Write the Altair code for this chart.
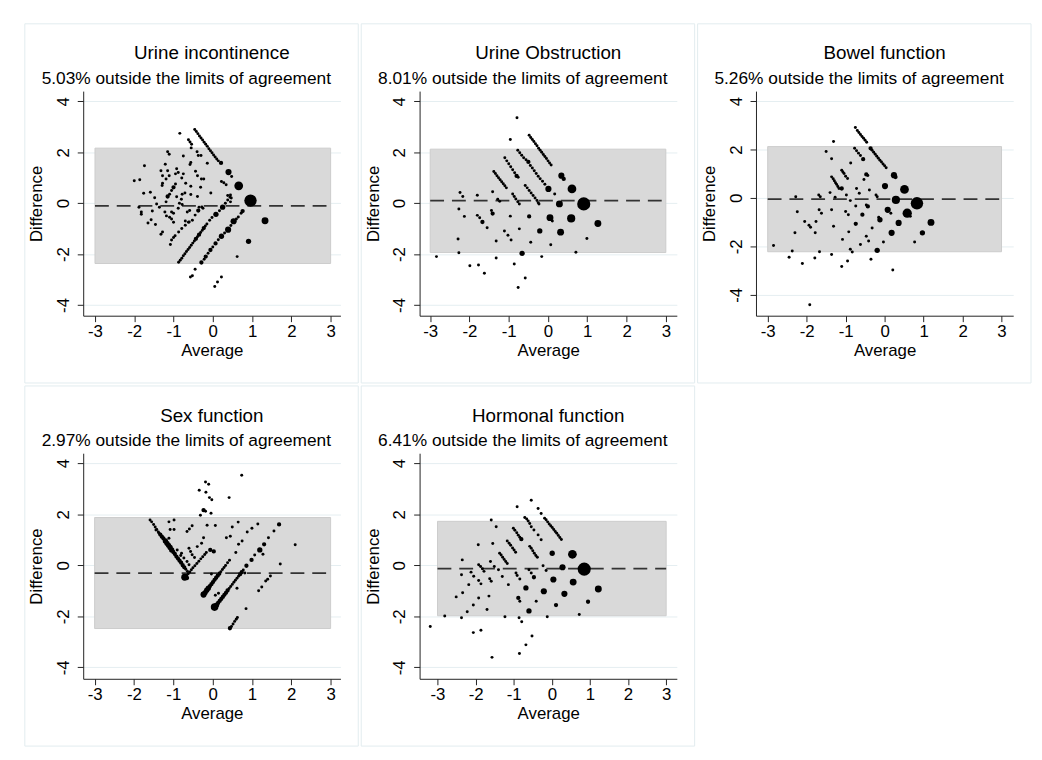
import altair as alt
import pandas as pd

FONT = "Liberation Sans"

names = ["Urine incontinence", "Urine Obstruction", "Bowel function", "Sex function", "Hormonal function"]
pct_outside = ["5.03%", "8.01%", "5.26%", "2.97%", "6.41%"]
mean_diff = [-0.11, 0.10, -0.05, -0.31, -0.13]
loa_low = [-2.37, -1.94, -2.22, -2.48, -1.98]
loa_high = [2.16, 2.12, 2.12, 1.87, 1.72]
x_ticks = [-3, -2, -1, 0, 1, 2, 3]
y_ticks = [-4, -2, 0, 2, 4]
x_domains = [[-3.30, 3.25], [-3.27, 3.28], [-3.30, 3.30], [-3.29, 3.25], [-3.47, 3.28]]
y_domains = [[-4.42, 4.40], [-4.42, 4.40], [-4.86, 4.41], [-4.45, 4.39], [-4.45, 4.39]]

# (average, difference, count)
p1 = [
    (-0.46, 2.89, 1), (-0.42, 2.81, 1), (-0.38, 2.73, 1), (-0.34, 2.64, 1), (-0.30, 2.56, 1), (-0.26, 2.48, 1),
    (-0.22, 2.39, 1), (-0.18, 2.31, 1), (-0.14, 2.23, 1), (-0.10, 2.14, 1), (-0.06, 2.06, 1), (-0.02, 1.98, 1),
    (0.02, 1.89, 1), (0.06, 1.81, 1), (0.10, 1.73, 1), (0.14, 1.66, 1), (0.21, 1.58, 2),
    (0.40, 1.22, 4), (0.48, 1.05, 1), (0.62, 0.74, 1), (0.66, 0.68, 8), (0.96, 0.10, 16), (1.33, -0.69, 5),
    (0.91, -1.50, 3), (0.62, -2.10, 1),
    (-0.62, 2.49, 1), (-0.58, 2.40, 1), (-0.54, 2.31, 1), (-0.55, 2.17, 1), (-0.40, 2.02, 1), (-0.37, 1.87, 1),
    (-0.30, 1.87, 1), (-0.14, 1.57, 1), (0.22, 0.85, 1), (0.28, 0.80, 1), (0.34, 0.72, 1), (0.38, 0.30, 1),
    (0.45, 0.32, 1), (0.47, 0.20, 1), (0.45, 0.05, 1), (-0.56, 1.60, 1), (-0.58, 1.52, 1),
    (-2.00, 0.88, 1), (-1.86, 0.92, 1), (-1.74, 1.47, 1), (-1.76, 0.39, 1), (-1.88, -0.16, 1), (-1.82, -0.35, 1),
    (-1.82, -0.44, 1), (-1.65, -0.78, 1), (-1.57, -0.65, 1), (-1.59, 0.43, 1), (-1.48, 0.21, 1), (-1.54, -0.31, 1),
    (-1.46, -0.84, 1), (-1.43, -0.03, 1), (-1.36, -0.16, 1), (-1.32, 1.27, 1), (-1.28, 1.08, 1), (-1.28, 0.78, 1),
    (-1.29, 0.69, 1), (-1.28, -1.13, 1), (-1.32, -1.22, 1), (-1.21, 1.53, 1), (-1.15, 2.02, 1), (-1.11, 1.92, 1),
    (-1.15, 1.27, 1), (-1.11, 1.08, 1), (-1.19, 0.95, 1), (-1.19, 0.05, 1), (-1.15, 0.26, 2), (-1.10, 0.35, 1),
    (-1.05, 0.50, 1), (-1.00, 0.62, 2), (-0.95, 0.75, 1), (-1.22, -0.35, 1), (-1.18, -0.50, 1), (-1.10, -0.55, 1),
    (-1.05, -0.35, 1), (-1.05, -0.62, 1), (-1.00, -0.40, 1), (-1.00, -0.75, 1), (-1.05, -1.45, 1), (-1.00, -1.35, 1),
    (-1.08, -1.62, 1), (-0.96, -1.28, 1), (-0.87, -1.13, 1), (-0.79, -1.00, 1), (-0.70, -0.87, 1),
    (-0.88, -0.20, 1), (-0.85, 0.00, 1), (-0.80, 0.15, 1), (-0.78, 0.35, 1), (-0.92, 0.25, 1), (-0.95, 1.15, 1),
    (-0.92, 1.35, 1), (-0.88, 1.20, 1), (-0.75, 1.15, 1), (-0.78, -0.05, 1), (-0.65, -0.35, 1), (-0.70, -0.70, 1),
    (-0.62, -0.75, 1), (-0.84, 2.74, 1), (-0.75, 1.85, 1), (-0.79, 0.99, 1), (-0.69, 0.78, 1), (-0.71, 0.40, 1),
    (-0.56, 0.66, 1), (-0.56, 0.34, 1), (-0.44, 1.25, 1), (-0.39, 1.08, 1), (-0.29, 0.95, 1), (-0.23, 0.95, 1),
    (-0.31, 0.62, 1), (-0.39, 0.26, 1), (-0.35, -0.16, 1), (-0.37, -0.29, 2), (-0.45, -0.47, 1), (-0.52, -0.67, 1),
    (-0.60, -0.74, 1), (-0.59, -0.29, 1), (-0.25, -0.20, 1), (-0.28, -0.15, 1), (-0.05, 0.40, 1),
    (-0.87, -2.32, 1), (-0.83, -2.24, 1), (-0.79, -2.16, 1), (-0.75, -2.07, 1), (-0.71, -1.99, 1), (-0.67, -1.90, 1),
    (-0.63, -1.82, 1), (-0.59, -1.74, 1), (-0.55, -1.65, 1), (-0.51, -1.57, 1), (-0.47, -1.49, 1), (-0.43, -1.40, 2),
    (-0.39, -1.32, 1), (-0.35, -1.24, 2), (-0.31, -1.15, 1), (-0.27, -1.07, 1), (-0.23, -0.98, 2), (-0.19, -0.90, 1),
    (-0.15, -0.82, 1), (-0.08, -0.67, 1), (-0.02, -0.56, 1), (0.08, -0.44, 3), (0.17, -0.30, 1), (0.25, -0.16, 3),
    (0.32, 0.00, 1), (0.38, 0.12, 1), (0.44, 0.23, 1),
    (-0.29, -2.33, 2), (-0.22, -2.20, 1), (-0.18, -2.10, 2), (-0.12, -1.97, 1), (-0.06, -1.84, 2), (0.00, -1.72, 1),
    (0.07, -1.58, 2), (0.14, -1.44, 1), (0.22, -1.30, 3), (0.30, -1.17, 1), (0.39, -1.04, 4), (0.46, -0.88, 1),
    (0.53, -0.71, 4), (0.60, -0.62, 1), (0.65, -0.54, 1), (0.72, -0.40, 1), (0.76, -0.31, 2),
    (-0.57, -2.90, 1), (-0.52, -2.85, 1), (-0.45, -2.60, 1), (0.05, -3.27, 1), (0.12, -3.10, 1), (0.22, -2.90, 1),
]

p2 = [
    (-0.79, 3.35, 1), (-0.96, 2.50, 1),
    (-0.48, 2.67, 1), (-0.44, 2.58, 1), (-0.40, 2.50, 1), (-0.36, 2.42, 1), (-0.32, 2.33, 1), (-0.28, 2.25, 1),
    (-0.24, 2.16, 1), (-0.20, 2.08, 1), (-0.16, 2.00, 1), (-0.12, 1.91, 1), (-0.08, 1.83, 1), (-0.04, 1.75, 1),
    (0.00, 1.66, 1), (0.04, 1.58, 1), (0.08, 1.50, 1),
    (0.34, 1.08, 4), (0.40, 0.95, 2), (0.61, 0.56, 8), (0.91, -0.03, 18), (1.27, -0.80, 5), (0.99, -1.39, 1),
    (0.71, -1.93, 1), (0.59, -0.60, 7), (0.32, -1.14, 5), (0.05, -0.57, 5), (0.11, -0.70, 1), (-0.21, -1.09, 3),
    (-0.48, -0.52, 2), (-0.44, -1.54, 1), (0.07, -1.63, 1), (-0.16, -2.10, 1), (-0.66, -1.97, 3), (-0.73, -1.01, 1),
    (-0.96, -0.51, 1), (-1.11, -1.09, 1), (-1.02, -1.26, 1), (-0.94, -1.45, 1), (-0.86, -2.39, 1), (-0.76, -3.31, 1),
    (-0.58, -2.94, 1), (-1.32, -2.15, 1), (-1.32, -1.49, 1), (-1.62, -2.75, 1), (-1.77, -2.43, 1), (-1.99, -2.46, 1),
    (-2.27, -1.95, 1), (-2.29, -1.41, 1), (-2.84, -2.10, 1), (-2.24, 0.42, 1), (-2.17, 0.26, 1), (-2.27, -0.23, 1),
    (-2.13, -0.52, 1), (-1.80, 0.31, 1), (-1.80, -0.48, 1), (-1.74, -0.57, 1), (-1.67, -0.74, 2), (-1.55, -0.97, 1),
    (-1.44, -0.29, 1), (-1.41, -0.41, 2), (-1.41, 0.45, 1),
    (-1.38, 1.24, 1), (-1.34, 1.16, 1), (-1.30, 1.08, 1), (-1.26, 1.00, 1), (-1.22, 0.92, 1), (-1.18, 0.84, 1),
    (-1.14, 0.76, 1), (-1.10, 0.68, 1), (-1.06, 0.60, 1), (-1.28, 0.15, 1), (-1.23, 0.07, 1),
    (-1.10, 1.78, 1), (-1.05, 1.66, 1), (-1.00, 1.55, 1), (-0.95, 1.43, 1), (-0.90, 1.31, 1), (-0.85, 1.19, 1),
    (-0.80, 1.07, 2), (-0.76, 1.02, 1),
    (-0.90, 0.36, 1), (-0.86, 0.26, 1), (-0.82, 0.16, 1), (-0.77, 0.05, 1), (-0.73, -0.03, 1),
    (-0.77, 2.08, 1), (-0.72, 1.98, 1), (-0.67, 1.88, 1), (-0.62, 1.78, 1), (-0.56, 1.70, 1), (-0.50, 1.62, 2),
    (-0.45, 1.48, 1), (-0.40, 1.38, 1), (-0.35, 1.27, 1), (-0.30, 1.16, 1), (-0.25, 1.06, 1), (-0.20, 0.96, 1),
    (-0.14, 0.86, 1), (-0.08, 0.74, 1), (0.01, 0.56, 4), (0.17, 0.36, 1),
    (-0.58, 0.69, 1), (-0.53, 0.60, 1), (-0.48, 0.50, 1), (-0.43, 0.40, 1), (-0.38, 0.30, 1), (-0.33, 0.20, 1),
    (-0.28, 0.10, 1), (-0.25, 0.02, 1), (-0.23, -0.03, 1),
    (0.29, -0.03, 5), (0.32, -0.08, 1),
]

p3 = [
    (-1.92, -4.41, 1), (-2.85, -1.96, 1), (-2.45, -2.45, 1), (-2.37, -2.19, 1), (-2.30, -1.44, 1), (-2.24, -0.57, 1),
    (-2.28, 0.05, 1), (-2.11, -2.71, 1), (-2.05, -0.97, 1), (-1.94, -1.13, 1), (-1.90, -1.21, 1), (-1.79, -2.48, 1),
    (-1.78, -1.44, 1), (-1.76, -0.97, 1), (-1.67, -2.22, 1), (-1.69, 0.12, 1), (-1.65, 0.05, 1), (-1.68, -0.49, 1),
    (-1.62, -0.63, 1), (-1.36, -2.33, 1), (-1.36, 1.62, 1), (-1.31, 2.33, 1), (-1.50, 1.92, 1), (-1.40, 0.22, 1),
    (-1.36, 0.87, 1), (-1.32, 0.79, 1), (-1.29, 0.71, 1), (-1.26, 0.63, 1), (-1.23, 0.56, 1), (-1.20, 0.47, 1),
    (-1.17, 0.39, 1), (-1.36, -0.49, 1), (-1.31, -1.17, 1), (-1.27, 0.03, 1),
    (-1.10, 1.14, 1), (-1.07, 1.07, 1), (-1.04, 1.01, 1), (-1.00, 0.90, 1), (-0.95, 0.80, 1),
    (-1.10, 0.39, 2), (-1.08, -1.71, 1), (-1.10, -2.83, 1), (-1.00, -0.56, 1), (-0.93, -0.69, 1), (-0.95, -2.60, 1),
    (-0.92, -1.40, 1), (-0.88, -0.11, 1), (-0.98, 0.12, 1), (-0.87, 1.44, 1), (-0.88, -2.12, 1), (-0.83, -2.23, 1),
    (-0.75, 2.91, 1), (-0.70, 2.78, 1), (-0.66, 2.70, 1), (-0.62, 2.62, 1), (-0.58, 2.54, 1), (-0.54, 2.46, 1),
    (-0.50, 2.38, 1), (-0.46, 2.30, 1),
    (-0.36, 2.05, 2), (-0.32, 1.97, 1), (-0.28, 1.89, 1), (-0.24, 1.80, 1), (-0.20, 1.72, 1), (-0.16, 1.64, 1),
    (-0.12, 1.56, 1), (-0.08, 1.48, 1), (-0.04, 1.40, 1), (0.00, 1.33, 1), (0.04, 1.25, 1),
    (0.24, 0.94, 4), (0.28, 0.86, 2),
    (-0.77, 2.05, 1), (-0.72, 1.95, 1), (-0.67, 1.85, 1), (-0.62, 1.75, 1), (-0.55, 1.60, 2),
    (-0.72, 0.39, 1), (-0.74, -0.33, 1), (-0.74, -1.07, 2), (-0.65, 0.19, 1), (-0.62, -1.92, 1), (-0.57, -0.69, 2),
    (-0.53, 0.76, 1), (-0.47, 0.97, 2), (-0.43, 0.93, 1), (-0.47, -0.29, 1), (-0.43, -0.35, 2), (-0.47, -1.58, 1),
    (-0.41, -1.78, 1), (-0.39, 0.33, 1), (-0.35, -2.53, 1), (-0.32, -1.24, 1), (-0.22, 0.12, 1), (-0.19, 0.05, 1),
    (-0.15, -0.80, 1), (-0.12, -0.90, 3), (-0.19, -2.16, 3), (-0.03, -1.82, 1), (0.01, 0.49, 4), (0.08, -0.49, 4),
    (0.16, -0.63, 1), (0.18, -1.44, 4), (0.21, -2.97, 1), (0.29, -0.08, 7), (0.36, -1.03, 4), (0.51, 0.35, 8),
    (0.58, -0.63, 9), (0.66, -0.76, 1), (0.83, -0.22, 16), (0.77, -1.82, 1), (0.97, -1.44, 3), (1.19, -1.01, 5),
]

p4 = [
    (-1.59, 1.77, 1), (-1.55, 1.70, 1), (-1.50, 1.60, 1), (-1.46, 1.50, 1), (-1.42, 1.40, 1), (-1.38, 1.30, 1),
    (-1.33, 1.20, 2), (-1.29, 1.12, 2), (-1.25, 1.05, 2), (-1.20, 0.95, 3), (-1.16, 0.86, 3), (-1.12, 0.78, 3),
    (-1.08, 0.70, 3), (-1.04, 0.60, 3), (-1.00, 0.52, 2), (-0.96, 0.44, 2), (-0.92, 0.34, 2), (-0.88, 0.26, 2),
    (-0.84, 0.18, 2), (-0.80, 0.10, 2), (-0.76, 0.00, 2), (-0.72, -0.08, 2), (-0.68, -0.16, 1), (-0.64, -0.24, 1),
    (-0.71, -0.47, 5), (-0.65, -0.50, 2),
    (-1.44, 1.38, 1), (-1.36, 1.25, 1), (-1.11, 1.70, 1), (-0.98, 1.77, 1), (-1.08, 1.40, 1), (-0.98, 1.40, 1),
    (-1.11, 1.06, 1), (-0.90, 0.60, 1), (-0.79, 0.47, 1), (-0.81, 0.38, 1), (-0.73, 0.28, 1), (-0.65, 0.15, 1),
    (-0.60, 0.02, 1), (-0.65, 1.32, 1), (-0.59, 1.42, 1), (-0.52, 1.55, 1),
    (-0.60, 0.67, 1), (-0.56, 0.54, 1), (-0.52, 0.41, 1), (-0.46, 0.30, 1),
    (-0.66, -0.40, 1), (-0.62, -0.33, 1), (-0.58, -0.26, 1), (-0.54, -0.18, 1), (-0.50, -0.10, 1), (-0.45, -0.02, 1),
    (-0.40, 0.07, 1), (-0.35, 0.16, 1), (-0.30, 0.25, 1), (-0.25, 0.33, 1), (-0.20, 0.42, 1), (-0.16, 0.50, 1),
    (-0.39, 0.73, 1), (-0.28, 0.86, 1), (-0.34, 2.94, 1), (-0.18, 3.26, 1), (-0.10, 3.17, 1), (-0.17, 2.86, 1),
    (-0.08, 2.65, 1), (-0.02, 2.57, 1), (-0.31, 1.96, 1), (-0.23, 2.16, 2), (-0.18, 2.12, 1), (-0.04, 2.04, 1),
    (-0.23, 1.08, 1), (-0.14, 1.57, 1), (-0.06, 0.60, 2), (0.03, 0.54, 2), (-0.03, -0.34, 1),
    (-0.23, -1.15, 4), (-0.19, -1.07, 3), (-0.15, -0.98, 3), (-0.11, -0.90, 3), (-0.07, -0.82, 2), (-0.03, -0.74, 2),
    (0.01, -0.66, 2), (0.05, -0.57, 2), (0.09, -0.49, 2), (0.13, -0.41, 2), (0.17, -0.33, 2), (0.21, -0.25, 1),
    (0.25, -0.17, 1), (0.29, -0.09, 1), (0.33, -0.01, 1), (0.38, 0.10, 1), (0.43, 0.20, 1),
    (-0.25, -1.10, 1), (0.15, -1.10, 1), (0.07, -1.18, 1),
    (0.05, -1.64, 6), (0.10, -1.56, 3), (0.14, -1.48, 2), (0.18, -1.40, 2), (0.22, -1.32, 2), (0.26, -1.24, 2),
    (0.30, -1.16, 2), (0.34, -1.08, 2), (0.38, -0.99, 2), (0.42, -0.91, 1), (0.46, -0.83, 1), (0.50, -0.75, 1),
    (0.54, -0.67, 1), (0.58, -0.59, 1), (0.62, -0.51, 1), (0.66, -0.43, 1), (0.70, -0.35, 2), (0.74, -0.27, 2),
    (0.78, -0.19, 1), (0.86, -0.02, 2), (0.99, 0.21, 2), (1.07, 0.40, 1), (1.20, 0.60, 3), (1.31, 0.82, 2),
    (1.42, 1.08, 1), (1.56, 1.34, 1), (1.69, 1.60, 2),
    (0.44, -2.47, 2), (0.48, -2.40, 1), (0.52, -2.30, 1), (0.56, -2.20, 1), (0.60, -2.12, 1), (0.63, -2.05, 1),
    (0.85, -1.70, 1), (1.72, 0.05, 1), (2.10, 0.80, 1), (1.47, -0.42, 1), (1.40, -0.55, 1), (1.35, -0.62, 1),
    (1.25, -0.85, 1), (1.17, -1.00, 1), (1.28, 0.43, 1), (1.15, 1.62, 1), (1.00, 1.45, 1), (0.88, 1.30, 1),
    (0.75, 0.95, 1), (0.66, 0.82, 1), (0.65, 1.69, 1), (0.50, 1.50, 1), (0.45, 1.14, 1), (0.35, 1.08, 1),
    (0.42, 2.65, 1), (0.74, 3.53, 1), (0.59, 0.50, 1), (0.62, -0.90, 1), (0.82, -0.30, 1), (0.07, 1.56, 1),
]

p5 = [
    (-3.19, -2.40, 1), (-2.81, -1.99, 1), (-2.51, -1.24, 1), (-2.35, 0.21, 1), (-2.37, -0.37, 1), (-2.34, -1.08, 1),
    (-2.37, -2.06, 1), (-2.22, -1.82, 1), (-2.18, -0.76, 1), (-2.12, -0.27, 1), (-2.05, -0.43, 1), (-2.06, -1.56, 1),
    (-2.06, -2.64, 1), (-1.93, 0.80, 1), (-1.92, -1.28, 1), (-1.92, -0.60, 1), (-1.86, -0.73, 1), (-1.86, -2.55, 1),
    (-1.92, 0.02, 1), (-1.87, -0.05, 1), (-1.82, -0.14, 1), (-1.78, -0.24, 1), (-1.70, -1.73, 1), (-1.65, -1.21, 1),
    (-1.63, -0.53, 1), (-1.59, -0.63, 1), (-1.61, 0.15, 1), (-1.57, -3.61, 1), (-1.59, 1.77, 1), (-1.55, 0.85, 1),
    (-1.46, 1.51, 1), (-1.51, -0.05, 1), (-1.40, -0.18, 1), (-1.30, -0.44, 1), (-1.23, -2.02, 1),
    (-1.37, 0.47, 1), (-1.33, 0.40, 1), (-1.29, 0.31, 1), (-1.25, 0.23, 1), (-1.21, 0.15, 1), (-1.17, 0.07, 1),
    (-1.17, 0.95, 1), (-1.12, 0.86, 1), (-1.08, 0.78, 1), (-1.03, 0.68, 1), (-0.99, 0.60, 1), (-0.95, 0.51, 1),
    (-1.14, -0.76, 1), (-1.01, 1.45, 1), (-0.97, 1.37, 1), (-0.92, 1.27, 1), (-0.88, 1.18, 1), (-0.84, 1.10, 1),
    (-0.80, 1.02, 2), (-0.94, -0.30, 1), (-0.91, -0.40, 1), (-0.84, -0.54, 1), (-0.91, 2.29, 1), (-0.88, -1.28, 2),
    (-0.84, -1.41, 1), (-0.86, -2.06, 1), (-0.79, -2.21, 1), (-0.85, -3.46, 1),
    (-0.71, 1.87, 1), (-0.66, 1.81, 1), (-0.62, 1.73, 1), (-0.58, 1.64, 1), (-0.54, 1.51, 1),
    (-0.68, -0.89, 3), (-0.68, -3.12, 1), (-0.60, -0.18, 1), (-0.54, -0.30, 1), (-0.60, -1.79, 3), (-0.54, 2.55, 1),
    (-0.52, -2.77, 1), (-0.58, 0.74, 1), (-0.54, 0.67, 1), (-0.50, 0.57, 1), (-0.46, 0.47, 1), (-0.42, 0.38, 1),
    (-0.38, 0.31, 1), (-0.47, 1.38, 1), (-0.36, 1.19, 1), (-0.28, 1.00, 1), (-0.47, -0.47, 2), (-0.41, -1.41, 1),
    (-0.36, 2.22, 1), (-0.28, 2.03, 1), (-0.21, -1.02, 4), (-0.23, -0.02, 1), (-0.15, -0.21, 1), (-0.12, -2.02, 1),
    (-0.19, 1.84, 1), (-0.15, 1.78, 1), (-0.11, 1.70, 1), (-0.07, 1.62, 1), (-0.03, 1.55, 1), (0.01, 1.48, 1),
    (0.05, 1.40, 1), (0.09, 1.32, 1), (0.13, 1.25, 1), (0.17, 1.17, 1), (0.21, 1.09, 1), (0.25, 1.01, 1),
    (0.01, 0.47, 3), (0.04, -0.56, 4), (0.11, -1.56, 2), (0.28, -0.08, 4), (0.33, -1.12, 4), (0.54, 0.43, 8),
    (0.56, -0.66, 5), (0.72, -1.93, 1), (0.85, -0.15, 18), (0.95, -1.43, 2), (1.22, -0.93, 5),
]

panels = [p1, p2, p3, p4, p5]
heights = [227, 227, 227, 228, 228]

PLOT_W = 260


def make_panel(i):
    h = heights[i]
    pts = pd.DataFrame(panels[i], columns=["avg", "diff", "n"])
    band = pd.DataFrame({"x1": [-3], "x2": [3], "lo": [loa_low[i]], "hi": [loa_high[i]]})
    mean = pd.DataFrame({"x1": [-3], "x2": [3], "m": [mean_diff[i]]})
    lab = pd.DataFrame({"t": [names[i]], "s": [pct_outside[i] + " outside the limits of agreement"]})

    xs = alt.Scale(domain=x_domains[i], nice=False, zero=False)
    ys = alt.Scale(domain=y_domains[i], nice=False, zero=False)
    xaxis = alt.Axis(values=x_ticks, title="Average", grid=False, domainColor="#222222", tickColor="#222222",
                     tickSize=6, labelFontSize=17, titleFontSize=17, labelPadding=2, titlePadding=3,
                     labelColor="black", titleColor="black", titleFontWeight="normal",
                     labelExpr="'' + datum.value")
    yaxis = alt.Axis(values=y_ticks, title="Difference", grid=True, gridColor="#e5eef1", gridWidth=1,
                     domainColor="#222222", tickColor="#222222", tickSize=6, labelFontSize=17,
                     titleFontSize=17, labelAngle=270, labelAlign="center", labelBaseline="bottom",
                     labelPadding=5, titlePadding=9, labelColor="black", titleColor="black",
                     titleFontWeight="normal", labelExpr="'' + datum.value")

    frame = alt.Chart(lab).mark_rect(fill="white", fillOpacity=0, stroke="#e2ecef", strokeWidth=1).encode(
        x=alt.value(-59), x2=alt.value(PLOT_W + 18), y=alt.value(-68), y2=alt.value(h + 68))
    bandc = alt.Chart(band).mark_rect(fill="#d9d9d9", stroke="#cccccc", strokeWidth=1).encode(
        x=alt.X("x1:Q", scale=xs, axis=xaxis), x2="x2:Q",
        y=alt.Y("lo:Q", scale=ys, axis=yaxis), y2="hi:Q")
    rule = alt.Chart(mean).mark_rule(color="#333333", strokeWidth=1.8, strokeDash=[14, 8]).encode(
        x=alt.X("x1:Q", scale=xs, axis=xaxis), x2="x2:Q", y=alt.Y("m:Q", scale=ys, axis=yaxis))
    dots = alt.Chart(pts).mark_circle(color="black", opacity=1).encode(
        x=alt.X("avg:Q", scale=xs, axis=xaxis),
        y=alt.Y("diff:Q", scale=ys, axis=yaxis),
        size=alt.Size("n:Q", scale=alt.Scale(domain=[1, 18], range=[9, 177]), legend=None))
    title = alt.Chart(lab).mark_text(fontSize=19, color="black", font=FONT).encode(
        x=alt.value(PLOT_W / 2), y=alt.value(-38), text="t:N")
    sub = alt.Chart(lab).mark_text(fontSize=17.5, color="black", font=FONT, align="left").encode(
        x=alt.value(-42), y=alt.value(-12), text="s:N")
    return alt.layer(frame, bandc, rule, dots, title, sub).properties(width=PLOT_W, height=h)


row1 = alt.hconcat(make_panel(0), make_panel(1), make_panel(2), spacing=1).resolve_scale(
    x="independent", y="independent")
row2 = alt.hconcat(make_panel(3), make_panel(4), spacing=1).resolve_scale(
    x="independent", y="independent")

chart = alt.vconcat(row1, row2, spacing=1).resolve_scale(
    x="independent", y="independent"
).properties(
    padding={"left": 16, "top": 11, "right": 2, "bottom": 2}, background="white"
).configure(font=FONT).configure_view(stroke=None)

chart.save("out.html", embed_options={"renderer": "svg", "actions": False})
